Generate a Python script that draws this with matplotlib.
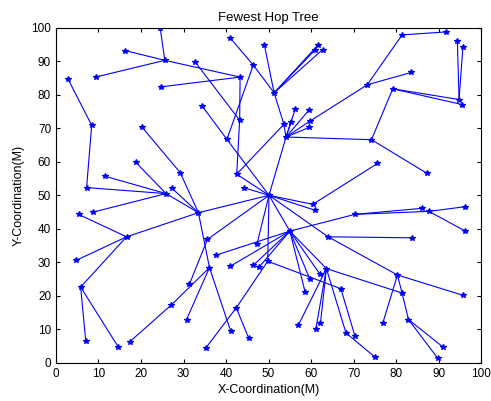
import matplotlib
matplotlib.use("Agg")
import matplotlib.pyplot as plt

# node names and coordinates (metres)
names = ["root", "A", "B", "C", "D", "E", "F", "G", "H", "I", "J", "K", "L", "M", "N",
         "O", "P", "Q", "R", "S", "T", "U", "V", "W", "X", "Y", "Z", "AA", "AB", "AC",
         "AD", "AE", "AF", "AG", "AH", "AI", "AJ", "AK", "AL", "AM", "AN", "AO", "AP",
         "AQ", "AR", "AS", "AT", "AU", "AV", "AW", "AX", "AY", "AZ", "BA", "BB", "BC",
         "BD", "BE", "BF", "BG", "BH", "BI", "BJ", "BK", "BL", "BM", "BN", "BO", "BP",
         "BQ", "BR", "BS", "BT", "BU", "BV", "BW", "BX", "BY", "BZ", "CA", "CB", "CC",
         "CD", "CE", "CF", "CG", "CH", "CI", "CJ", "CK", "CL", "CM", "CN", "CO", "CP",
         "CQ", "CR", "CS", "CT", "CU"]
node_x = [50.1, 24.5, 25.6, 16.3, 9.3, 32.8, 43.3, 24.8, 2.8, 8.4, 7.2, 40.9, 46.4, 49.0, 51.3,
          61.7, 61.0, 62.7, 43.2, 40.2, 34.3, 42.5, 53.6, 54.1, 56.3, 55.3, 59.6, 59.8, 59.6, 73.2,
          81.4, 91.8, 83.6, 94.4, 94.8, 95.7, 95.5, 79.2, 74.2, 87.2, 75.6, 60.4, 61.0,
          44.3, 20.2, 29.2, 33.5, 18.8, 11.5, 27.2, 25.9, 8.8, 5.3, 16.6, 4.8, 5.8,
          7.0, 14.6, 35.6, 31.4, 36.1, 30.7, 27.0, 17.3, 35.3, 41.1, 42.4, 45.3, 37.6,
          41.0, 46.4, 47.8, 47.3, 49.8, 55.0, 70.3, 86.0, 87.7, 96.3, 96.3, 64.0, 83.8,
          80.3, 95.8, 81.4, 76.9, 82.9, 91.0, 89.8, 63.6, 62.1, 59.7, 58.6, 57.0, 61.1,
          62.2, 67.0, 68.2, 70.3, 75.1]
node_y = [50.0, 100.0, 90.3, 93.2, 85.3, 89.7, 85.3, 82.4, 84.8, 70.9, 52.3, 97.1, 88.9, 95.0, 80.6,
          95.0, 93.5, 93.5, 72.4, 66.7, 76.8, 56.3, 71.2, 67.4, 75.9, 71.8, 75.6, 72.2, 70.3, 83.0,
          97.9, 98.8, 86.7, 96.0, 78.6, 94.2, 77.1, 81.8, 66.6, 56.6, 59.5, 47.3, 45.5,
          52.2, 70.4, 56.8, 44.8, 59.8, 55.7, 52.2, 50.5, 45.0, 44.3, 37.6, 30.6, 22.6,
          6.5, 4.8, 36.8, 23.5, 28.4, 12.9, 17.1, 6.2, 4.5, 9.4, 16.4, 7.4, 32.1,
          28.8, 29.1, 28.6, 35.6, 30.3, 39.3, 44.3, 46.1, 45.2, 46.6, 39.3, 37.6, 37.3,
          26.2, 20.1, 20.8, 12.0, 12.9, 4.7, 1.3, 28.1, 26.4, 25.0, 21.1, 11.2, 10.0,
          11.8, 22.1, 8.9, 8.0, 1.6]

# links of the tree
edges = [("A", "B"), ("C", "B"), ("D", "B"), ("B", "F"), ("G", "F"), ("E", "R"), ("F", "R"),
         ("L", "S"), ("K", "L"), ("L", "N"), ("M", "N"), ("N", "O"), ("N", "P"), ("N", "Q"),
         ("N", "V"), ("V", "W"), ("U", "V"), ("R", "U"), ("U", "root"), ("T", "S"), ("S", "root"),
         ("W", "root"), ("W", "X"), ("W", "Y"), ("W", "Z"), ("W", "AA"), ("W", "AB"), ("AA", "AC"),
         ("AC", "AD"), ("AD", "AE"), ("AC", "AF"), ("W", "AL"), ("AL", "AK"), ("AK", "AH"),
         ("AK", "AJ"), ("AG", "AH"), ("AI", "AH"), ("AL", "AM"), ("AO", "root"), ("AP", "root"),
         ("AO", "AN"), ("AQ", "root"), ("H", "I"), ("I", "J"), ("J", "AX"), ("AV", "AX"),
         ("AU", "AX"), ("AY", "AX"), ("AX", "AT"), ("AW", "AT"), ("AR", "AS"), ("AS", "AT"),
         ("AT", "root"), ("AZ", "BA"), ("BB", "BA"), ("BC", "BA"), ("BA", "AT"), ("BC", "BD"),
         ("BC", "BE"), ("BK", "BJ"), ("BJ", "BH"), ("BG", "BF"), ("BI", "BH"), ("AT", "BH"),
         ("BH", "BM"), ("BF", "root"), ("BL", "BN"), ("BN", "BU"), ("BN", "BO"), ("BP", "BV"),
         ("BQ", "BV"), ("BR", "BV"), ("BS", "BV"), ("BT", "root"), ("BU", "root"), ("BV", "root"),
         ("BU", "CR"), ("CR", "CT"), ("BV", "CK"), ("BV", "CL"), ("BV", "CM"), ("BV", "CN"),
         ("CK", "CO"), ("CK", "CP"), ("CK", "CQ"), ("CK", "CS"), ("CS", "CU"), ("CK", "CF"),
         ("CD", "CF"), ("CF", "CH"), ("CH", "CI"), ("CH", "CJ"), ("CD", "CG"), ("CD", "CE"),
         ("root", "CB"), ("CB", "CD"), ("CB", "CC"), ("BV", "BW"), ("BW", "BX"), ("BW", "BY"),
         ("BY", "BZ"), ("BY", "CA")]

plt.rcParams['font.family'] = ['Liberation Sans', 'DejaVu Sans']
fig = plt.figure(figsize=(4.91, 4.01), dpi=100)
ax = fig.add_axes([0.114, 0.0955, 0.866, 0.835])

idx = {n: i for i, n in enumerate(names)}
for a, b in edges:
    i, j = idx[a], idx[b]
    ax.plot([node_x[i], node_x[j]], [node_y[i], node_y[j]], color='#0000ff', lw=0.8)
ax.plot(node_x, node_y, '*', color='#0000ff', markersize=4, markeredgewidth=0.9)

ax.set_xlim(0, 100)
ax.set_ylim(0, 100)
ax.set_xticks(range(0, 101, 10))
ax.set_yticks(range(0, 101, 10))
ax.tick_params(direction='in', top=True, right=True, labelsize=8.5, length=3)
ax.set_xlabel('X-Coordination(M)', fontsize=9, labelpad=3)
ax.set_ylabel('Y-Coordination(M)', fontsize=9, labelpad=5)
ax.set_title('Fewest Hop Tree', fontsize=9.5, pad=5)

fig.savefig('out.png', dpi=100)
